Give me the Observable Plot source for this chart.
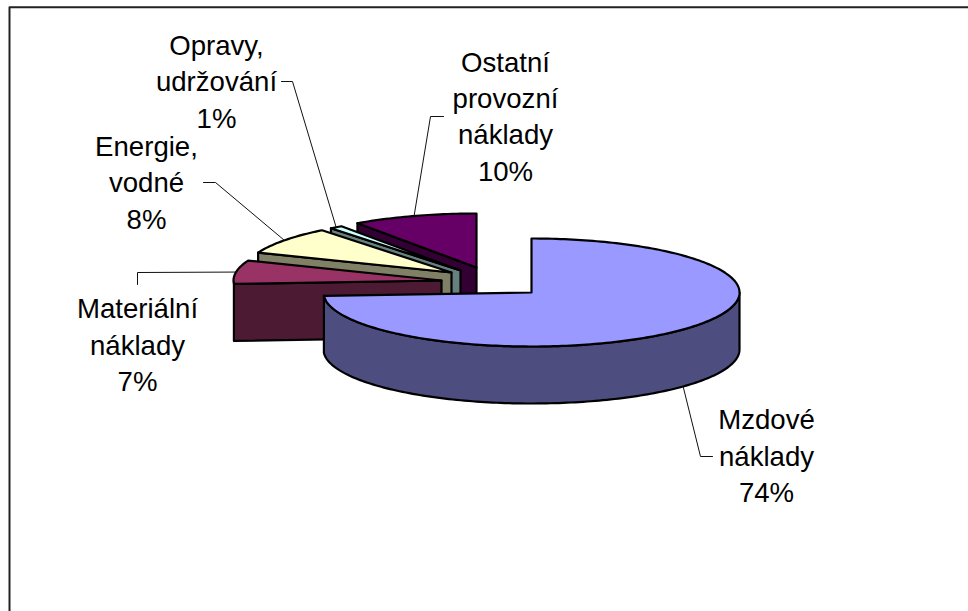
<!DOCTYPE html>
<html>
<head>
<meta charset="utf-8">
<script src="https://cdn.jsdelivr.net/npm/d3@7"></script>
<script src="https://cdn.jsdelivr.net/npm/@observablehq/plot@0.6"></script>
<style>html,body{margin:0;padding:0;background:#fff}svg{display:block}</style>
</head>
<body>
<div id="chart"></div>
<script>
// Data
const categories = ["Mzdové náklady", "Materiální náklady", "Energie, vodné", "Opravy, udržování", "Ostatní provozní náklady"];
const shares = [74, 7, 8.3, 1, 9.7];
const labelLines = ["Mzdové\nnáklady\n74%", "Materiální\nnáklady\n7%", "Energie,\nvodné\n8%", "Opravy,\nudržování\n1%", "Ostatní\nprovozní\nnáklady\n10%"];

// Styles and layout of the oblique pie
const topColors = ["#9999FF", "#993366", "#FFFFCC", "#CCFFFF", "#660066"];
const sideColors = ["#4D4D80", "#4D1A33", "#808066", "#668080", "#330033"];
const apexX = [531, 441, 451, 460, 476];
const apexY = [292, 280, 272, 270, 267];
const labelX = [766, 137, 146, 216, 505];
const labelY = [453.5, 342.5, 180, 79, 114];
const elbowX = [[700, 712], [137, 137], [215, 203], [292, 281], [430, 443]];
const elbowY = [[456, 456], [272, 284], [182, 182], [81, 81], [116, 116]];
const radiusX = 208, radiusY = 54, depth = 57;

const arcs = d3.pie().sort(null)(shares);
const rim = (i, a, dz = 0) => [apexX[i] + radiusX * Math.sin(a), apexY[i] - radiusY * Math.cos(a) + dz];
const arcPts = (i, a0, a1, dz = 0) => {
  const n = Math.max(2, Math.ceil((a1 - a0) / 0.02));
  return d3.range(n + 1).map((k) => rim(i, a0 + (a1 - a0) * k / n, dz));
};
const toRows = (pts) => pts.concat([pts[0]]).map(([x, y]) => ({x, y}));
const poly = (pts, fill) => Plot.line(toRows(pts), {x: "x", y: "y", fill, stroke: "#000", strokeWidth: 2.2});

const marks = [];
// frame
marks.push(Plot.line([{x: 9, y: 611}, {x: 9, y: 6.75}, {x: 968, y: 6.75}], {x: "x", y: "y", stroke: "#222", strokeWidth: 2}));

// slices drawn from back to front
[4, 3, 2, 1, 0].forEach((i) => {
  const {startAngle: a0, endAngle: a1} = arcs[i];
  const apex = [apexX[i], apexY[i]];
  if (i === 0) {
    const s0 = Math.PI / 2, s1 = a1;
    marks.push(poly([...arcPts(i, s0, s1), ...arcPts(i, s0, s1, depth).reverse()], sideColors[i]));
  } else {
    const p = rim(i, a0);
    marks.push(poly([p, apex, [apex[0], apex[1] + depth], [p[0], p[1] + depth]], sideColors[i]));
  }
  marks.push(poly([apex, ...arcPts(i, a0, a1)], topColors[i]));
});

// leader lines, anchored at each slice's mid angle
arcs.forEach((arc, i) => {
  const mid = (arc.startAngle + arc.endAngle) / 2;
  const p = rim(i, mid, i === 0 ? depth : 0);
  const rows = [{x: p[0], y: p[1]}, {x: elbowX[i][0], y: elbowY[i][0]}, {x: elbowX[i][1], y: elbowY[i][1]}];
  marks.push(Plot.line(rows, {x: "x", y: "y", stroke: "#111", strokeWidth: 1}));
});

// labels
marks.push(Plot.text(categories.map((c, i) => ({c, t: labelLines[i], x: labelX[i], y: labelY[i]})), {
  x: "x", y: "y", text: "t", fontSize: 27.6, lineHeight: 1.32, textAnchor: "middle", fill: "#000",
  fontFamily: "Liberation Sans"
}));

document.getElementById("chart").append(Plot.plot({
  width: 968, height: 611, margin: 0,
  x: {domain: [0, 968], range: [0, 968], axis: null},
  y: {domain: [0, 611], range: [0, 611], axis: null},
  marks
}));
</script>
</body>
</html>
